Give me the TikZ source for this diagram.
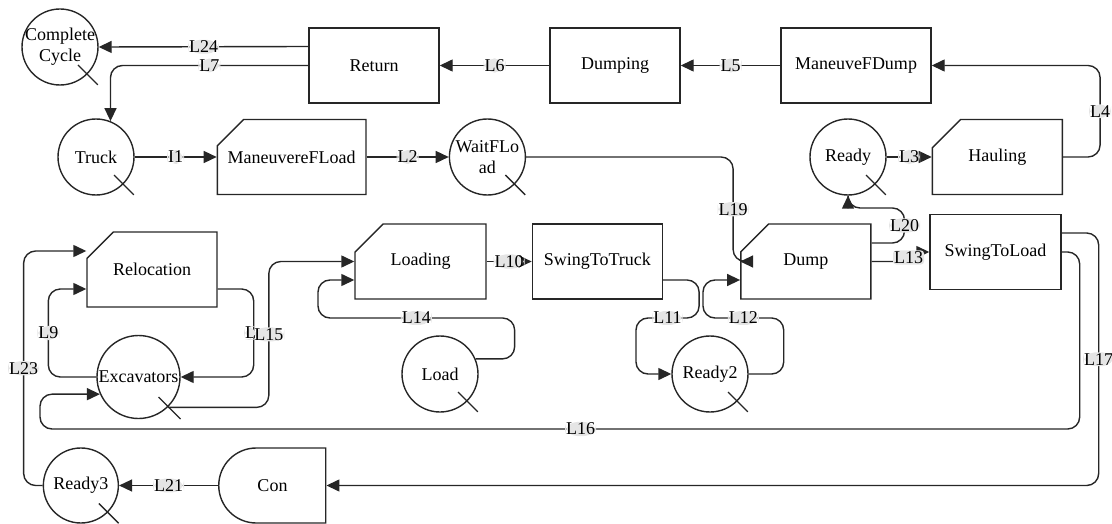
\documentclass[tikz,border=0pt]{standalone}
\usepackage{fontspec}
\setmainfont{Liberation Serif}
\usetikzlibrary{arrows.meta,positioning,shapes.misc}

\begin{document}
\begin{tikzpicture}[
  x=1pt, y=-1pt,
  font=\fontsize{18}{21}\selectfont,
  box/.style={draw=black!85,line width=1.4pt,minimum width=130pt,minimum height=75pt,inner sep=2pt},
  card/.style={box,chamfered rectangle,chamfered rectangle corners=north west,
               chamfered rectangle xsep=20pt,chamfered rectangle ysep=18pt},
  queue/.style={draw=black!85,line width=1.4pt,circle,minimum size=76pt,inner sep=-4pt,align=center},
  flow/.style={-{Triangle[length=13pt,width=12pt]},line width=1.4pt,draw=black!85,rounded corners=12pt},
  lbl/.style={fill=black!10,inner sep=1pt},
  tick/.style={line width=1.4pt,draw=black!85}
]
\useasboundingbox (0,0) rectangle (1112,524);

% top row
\node[box,minimum width=150pt] (mdump) at (856,65.5) {ManeuveFDump};
\node[box] (dumping) at (615,65.5) {Dumping};
\node[box] (ret) at (374,65.5) {Return};
\node[queue] (cc) at (60,47) {Complete\\Cycle};

% second row
\node[queue] (truck) at (96,157) {Truck};
\node[card,minimum width=139pt,right=82pt of truck] (mfload) {ManeuvereFLoad};
\node[queue,right=82pt of mfload] (waitf) {WaitFLo\\ad};
\node[queue] (ready) at (848,157) {Ready};
\node[card,right=45pt of ready] (hauling) {Hauling};

% third row
\node[card] (reloc) at (152,269.5) {Relocation};
\node[card,minimum width=131pt] (loading) at (420.5,261.5) {Loading};
\node[box,right=45pt of loading] (s2truck) {SwingToTruck};
\node[card,right=77pt of s2truck] (dump) {Dump};
\node[box,minimum width=131pt] (s2load) at (995.5,252) {SwingToLoad};

% bottom rows
\node[queue,minimum size=83pt] (exc) at (138.5,377) {Excavators};
\node[queue] (load) at (440,374) {Load};
\node[queue] (ready2) at (710,374) {Ready2};
\node[box,rounded rectangle,rounded rectangle right arc=none,minimum width=111pt] (con) at (272.5,485.5) {Con};
\node[queue,minimum size=75pt,left=99pt of con] (ready3) {Ready3};

\foreach \n/\a in {cc/18,truck/18,waitf/18,ready/18,load/18,ready2/18,ready3/18,exc/20}
  \draw[tick] (\n.center) ++(\a,\a) -- ++(1.1*\a,1.1*\a);

% links
\draw[flow] (mdump.west) -- node[lbl]{L5} (dumping.east);
\draw[flow] (dumping.west) -- node[lbl]{L6} (ret.east);
\draw[flow] ([yshift=19pt]ret.west) -- node[lbl]{L24} (cc.east);
\draw[flow] (ret.west) -| node[lbl,pos=0.25]{L7} (truck.68);
\draw[flow] (truck.east) -- node[lbl]{I1} (mfload.west);
\draw[flow] (mfload.east) -- node[lbl]{L2} (waitf.west);
\draw[flow] (waitf.east) -- ++(207,0) |- node[lbl,pos=0.25]{L19} (dump.west);
\draw[flow] (ready.east) -- node[lbl]{L3} (hauling.west);
\draw[flow] (hauling.east) -- ++(37,0) |- node[lbl,pos=0.25]{L4} (mdump.east);
\draw[flow] ([yshift=18.5pt]dump.east) -- ++(33,0) -- node[lbl]{L20} ++(0,-35) -| (ready.south);
\draw[flow,rounded corners=3pt] (dump.east) -- node[lbl,pos=1,yshift=4pt]{L13} ++(37,0) |- (s2load.west);
\draw[flow] (loading.east) -- node[lbl]{L10} (s2truck.west);
\draw[flow] ([yshift=-18.5pt]s2truck.east) -- ++(36,0) |- node[lbl,pos=0.75]{L11} (636,318) |- (ready2.west);
\draw[flow] (ready2.east) -- ++(35,0) |- node[lbl,pos=0.75]{L12} (703,318) |- ([yshift=-18.5pt]dump.west);
\draw[flow] (load.23) -- ++(39,0) |- node[lbl,pos=0.75]{L14} (318,318) |- ([yshift=-18.5pt]loading.west);
\draw[flow] (exc.west) -- ++(-48,0) |- node[lbl,pos=0.25]{L9} ([yshift=-19.5pt]reloc.west);
\draw[flow] ([yshift=-19.5pt]reloc.east) -- ++(36,0) |- node[lbl,pos=0.25,anchor=east,xshift=4pt]{L} (exc.east);
\draw[flow] (exc.-46) -- ++(101,0) |- node[lbl,pos=0.25]{L15} (loading.west);
\draw[flow] (s2load.east) -- ++(18,0) |- node[lbl,pos=0.74]{L16} (40,429) |- (exc.204);
\draw[flow] ([yshift=19pt]s2load.east) -- ++(37,0) |- node[lbl,pos=0.25]{L17} (con.east);
\draw[flow] (con.west) -- node[lbl]{L21} (ready3.east);
\draw[flow] (ready3.west) -- ++(-19,0) |- node[lbl,pos=0.25]{L23} ([yshift=18.5pt]reloc.west);
\end{tikzpicture}
\end{document}
